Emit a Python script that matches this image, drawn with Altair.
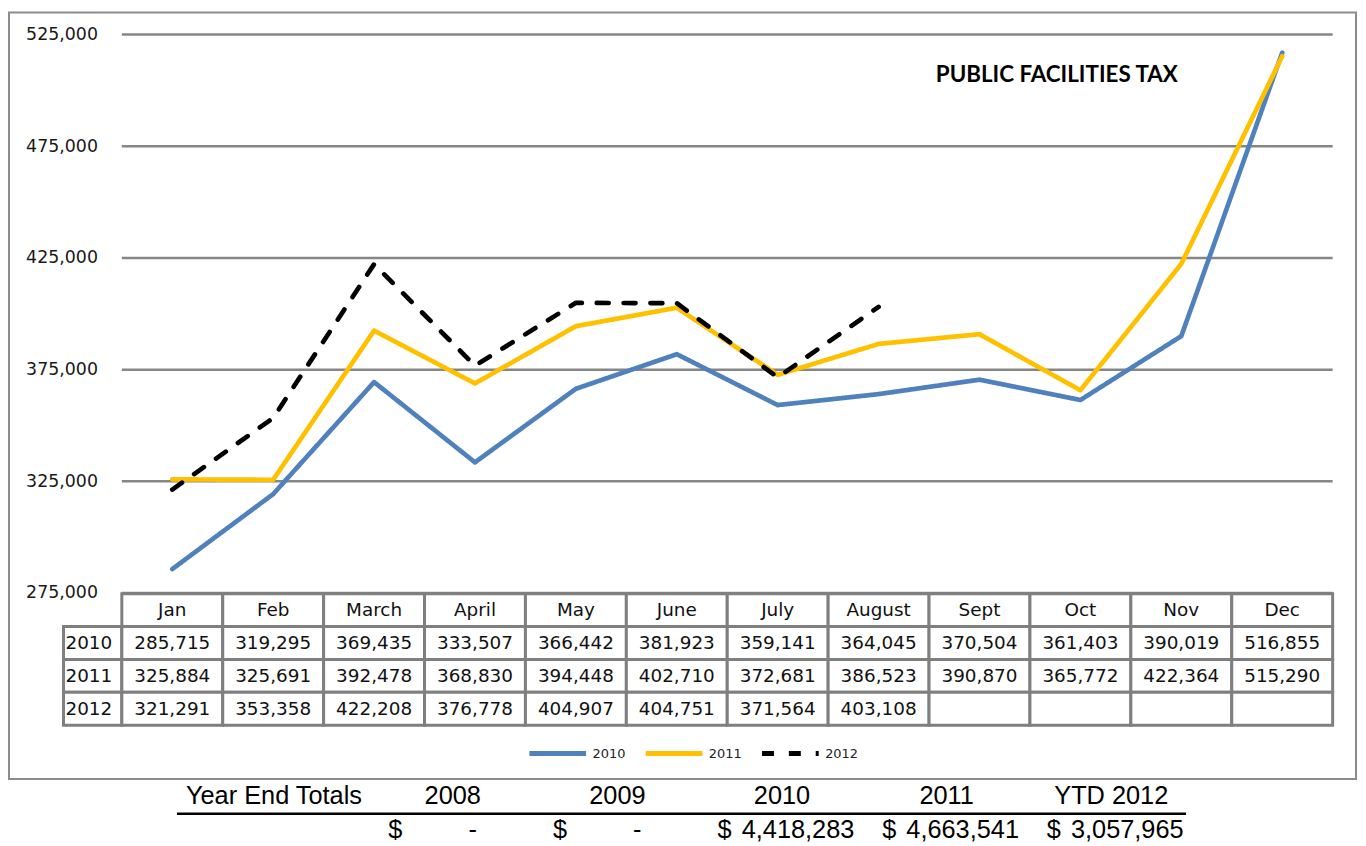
import altair as alt
import pandas as pd

# ---------------- data ----------------
months = ["Jan", "Feb", "March", "April", "May", "June", "July", "August",
          "Sept", "Oct", "Nov", "Dec"]
years = ["2010", "2011", "2012"]
v2010 = [285715, 319295, 369435, 333507, 366442, 381923, 359141, 364045,
         370504, 361403, 390019, 516855]
v2011 = [325884, 325691, 392478, 368830, 394448, 402710, 372681, 386523,
         390870, 365772, 422364, 515290]
v2012 = [321291, 353358, 422208, 376778, 404907, 404751, 371564, 403108]
y_ticks = [275000, 325000, 375000, 425000, 475000, 525000]
title_text = "PUBLIC FACILITIES TAX"
totals_label = "Year End Totals"
total_cols = ["2008", "2009", "2010", "2011", "YTD 2012"]
total_vals = ["-", "-", "4,418,283", "4,663,541", "3,057,965"]

series = {"2010": v2010, "2011": v2011, "2012": v2012}

# ---------------- tables built from the arrays ----------------
line_rows = []
for yr in years:
    for i, v in enumerate(series[yr]):
        line_rows.append({"year": yr, "idx": i, "value": v})
line_df = pd.DataFrame(line_rows)

rect_rows, text_rows = [], []
for i, m in enumerate(months):
    rect_rows.append({"row": "header", "x0": i, "x1": i + 1})
    text_rows.append({"row": "header", "idx": i, "label": m})
for yr in years:
    vals = series[yr]
    rect_rows.append({"row": yr, "x0": -0.578, "x1": 0})
    for i in range(len(months)):
        rect_rows.append({"row": yr, "x0": i, "x1": i + 1})
        if i < len(vals):
            text_rows.append({"row": yr, "idx": i, "label": f"{vals[i]:,}"})
rect_df = pd.DataFrame(rect_rows)
text_df = pd.DataFrame(text_rows)
rowlab_df = pd.DataFrame({"row": years, "x0": [-0.578] * len(years)})

tot_head_df = pd.DataFrame({"col": total_cols, "role": ["head"] * 5, "label": total_cols})
tot_val_df = pd.DataFrame({"col": total_cols, "role": ["val"] * 5, "label": total_vals})

# ---------------- scales ----------------
X = alt.Scale(domain=[0, 12], range=[113.5, 1331.5], nice=False, zero=False)
YV = alt.Scale(domain=[275000, 525000], range=[584, 22.3], nice=False, zero=False)
YT = alt.Scale(domain=["header"] + years, range=[584.7, 717], paddingInner=0, paddingOuter=0)
XT = alt.Scale(domain=total_cols, range=[363.6, 1191.6], paddingInner=0, paddingOuter=0)
YTOT = alt.Scale(type="point", domain=["head", "val"], range=[788.5, 822.5], padding=0)
HALF_BAND = (1191.6 - 363.6) / len(total_cols) / 2

FONT = "DejaVu Sans"

legend = alt.Legend(title=None, orient="none", legendX=521, legendY=714.5,
                    direction="horizontal", symbolType="stroke", symbolSize=3249,
                    symbolStrokeWidth=5, labelFont=FONT, labelFontSize=13,
                    labelColor="#222222", labelOffset=4, columnPadding=9, padding=0)

grid = alt.Chart(pd.DataFrame({"tick": y_ticks})).mark_rule(
    color="#868686", strokeWidth=2.5
).encode(
    y=alt.Y("tick:Q", scale=YV, axis=None),
    x=alt.XDatum(0, type="quantitative", scale=X, axis=None),
    x2=alt.X2Datum(12),
)

line = alt.Chart(line_df).transform_calculate(
    xc="datum.idx + 0.5"
).mark_line(strokeWidth=4.7, strokeCap="round", strokeJoin="round").encode(
    x=alt.X("xc:Q", scale=X, axis=None),
    y=alt.Y("value:Q", scale=YV, title=None,
            axis=alt.Axis(values=y_ticks, format=",d", grid=False, domain=False,
                          ticks=False, labelPadding=0, offset=-89, labelFont=FONT,
                          labelFontSize=17.5, labelColor="#1a1a1a",
                          labelFlush=False, labelOverlap=False)),
    color=alt.Color("year:N", scale=alt.Scale(domain=years,
                    range=["#4F81BD", "#FFC000", "#000000"]), legend=legend),
    strokeDash=alt.StrokeDash("year:N", scale=alt.Scale(domain=years,
                              range=[[1, 0], [1, 0], [12, 15]]), legend=legend),
    order="idx:Q",
)

cells = alt.Chart(rect_df).mark_rect(fill="white", stroke="#7f7f7f", strokeWidth=3).encode(
    x=alt.X("x0:Q", scale=X, axis=None),
    x2="x1:Q",
    y=alt.Y("row:N", scale=YT, axis=None),
)

cell_text = alt.Chart(text_df).transform_calculate(
    xc="datum.idx + 0.5"
).mark_text(font=FONT, fontSize=18.5, color="#111111", align="center", baseline="middle").encode(
    x=alt.X("xc:Q", scale=X, axis=None),
    y=alt.Y("row:N", scale=YT, axis=None),
    text="label:N",
)

row_text = alt.Chart(rowlab_df).mark_text(
    font=FONT, fontSize=18.5, color="#111111", align="left", baseline="middle", dx=2
).encode(
    x=alt.X("x0:Q", scale=X, axis=None),
    y=alt.Y("row:N", scale=YT, axis=None),
    text="row:N",
)

title = alt.Chart(pd.DataFrame({"t": [title_text]})).mark_text(
    font="Lato", fontWeight="bold", fontSize=22.5, align="center", baseline="middle", color="#000000"
).encode(text="t:N", x=alt.value(1054), y=alt.value(63))

TFONT = "Liberation Sans"
TSIZE = 25.5
tot_label = alt.Chart(pd.DataFrame({"t": [totals_label], "role": ["head"]})).mark_text(
    font=TFONT, fontSize=TSIZE, align="left", baseline="middle", color="#000000"
).encode(text="t:N", x=alt.value(178), y=alt.Y("role:N", scale=YTOT, axis=None))

tot_head = alt.Chart(tot_head_df).mark_text(
    font=TFONT, fontSize=TSIZE, align="center", baseline="middle", color="#000000"
).encode(
    x=alt.X("col:N", scale=XT, axis=None),
    y=alt.Y("role:N", scale=YTOT, axis=None),
    text="label:N",
)

tot_dollar = alt.Chart(tot_val_df).mark_text(
    font=TFONT, fontSize=TSIZE, align="left", baseline="middle", color="#000000",
    dx=-HALF_BAND + 18
).encode(
    x=alt.X("col:N", scale=XT, axis=None),
    y=alt.Y("role:N", scale=YTOT, axis=None),
    text=alt.value("$"),
)

tot_num = alt.Chart(tot_val_df).transform_filter(
    "datum.label != '-'"
).mark_text(
    font=TFONT, fontSize=TSIZE, align="right", baseline="middle", color="#000000",
    dx=HALF_BAND - 10
).encode(
    x=alt.X("col:N", scale=XT, axis=None),
    y=alt.Y("role:N", scale=YTOT, axis=None),
    text="label:N",
)

tot_dash = alt.Chart(tot_val_df).transform_filter(
    "datum.label == '-'"
).mark_text(
    font=TFONT, fontSize=TSIZE, align="center", baseline="middle", color="#000000",
    dx=20
).encode(
    x=alt.X("col:N", scale=XT, axis=None),
    y=alt.Y("role:N", scale=YTOT, axis=None),
    text="label:N",
)

underline = alt.Chart(pd.DataFrame({"a": [0]})).mark_rule(color="#000000", strokeWidth=2.5).encode(
    x=alt.value(169), x2=alt.value(1184), y=alt.value(806)
)

chart = alt.layer(
    grid, cells, cell_text, row_text, line, title,
    tot_label, tot_head, tot_dollar, tot_num, tot_dash, underline
).resolve_scale(
    x="independent", y="independent"
).properties(
    width=1355, height=771,
    padding={"left": 1, "top": 2, "right": 2, "bottom": 62},
    autosize=alt.AutoSizeParams(type="none"),
).configure_view(stroke="#8c8c8c", strokeWidth=2)

chart.save("out.html", embed_options={"renderer": "svg", "actions": False})
